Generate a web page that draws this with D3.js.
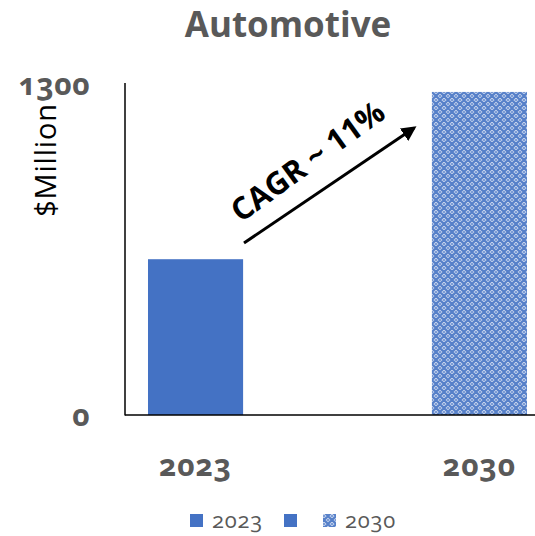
<!DOCTYPE html>
<html><head><meta charset="utf-8">
<script src="https://cdn.jsdelivr.net/npm/d3@7"></script>
<style>
body{margin:0;background:#fff;}
text{font-family:"Open Sans",sans-serif;}
</style></head>
<body><svg id="c" width="535" height="536"></svg>
<script>
const categories = ["2023", "2030"];
const values = [610, 1265];
const yTicks = [0, 1300];
const title = "Automotive";
const yLabel = "$Million";
const cagrText = "CAGR ~ 11%";
const legendItems = ["2023", "", "2030"];

const svg = d3.select("#c");
const gray = "#595959", blue = "#4472C4";

const defs = svg.append("defs");
const pat = defs.append("pattern").attr("id","hatch").attr("patternUnits","userSpaceOnUse")
  .attr("width",8).attr("height",8);
pat.append("rect").attr("width",8).attr("height",8).attr("fill","#fff");
pat.append("path").attr("d","M0,4 L4,0 L8,4 L4,8 Z").attr("fill","none").attr("stroke",blue).attr("stroke-opacity",0.9).attr("stroke-width",2.3);
[[0,0],[8,0],[0,8],[8,8],[4,4]].forEach(p=>
  pat.append("circle").attr("cx",p[0]).attr("cy",p[1]).attr("r",1.6).attr("fill",blue).attr("fill-opacity",0.7));

const x0 = 125, y0 = 415, yTop = 83;
const x = d3.scaleBand().domain(categories).range([x0, 550]).paddingInner(0.665).paddingOuter(0.081);
const y = d3.scaleLinear().domain([0, 1300]).range([y0, yTop]);

// title
svg.append("text").attr("x",288).attr("y",37).attr("text-anchor","middle")
  .attr("font-size",35).attr("font-weight","bold").attr("fill",gray).text(title);

// bars
svg.selectAll("rect.bar").data(categories).enter().append("rect").attr("class","bar")
  .attr("x",d=>x(d)).attr("width",x.bandwidth())
  .attr("y",(d,i)=>y(values[i])).attr("height",(d,i)=>y0-y(values[i]))
  .attr("fill",(d,i)=>i===0?blue:"url(#hatch)");

// axes lines
svg.append("line").attr("x1",x0).attr("x2",x0).attr("y1",yTop).attr("y2",y0+0.5).attr("stroke","#000").attr("stroke-width",1.5);
svg.append("line").attr("x1",x0).attr("x2",535).attr("y1",y0).attr("y2",y0).attr("stroke","#000").attr("stroke-width",1.5);

// y tick labels
svg.selectAll("text.yt").data(yTicks).enter().append("text").attr("class","yt")
  .attr("x",90).attr("y",d=>y(d)+ (d===0?11:12)).attr("text-anchor","end")
  .attr("font-size",30).attr("font-weight","bold").attr("fill",gray).attr("letter-spacing",0.5)
  .style("font-feature-settings","'onum'").text(d=>d);

// y label
svg.append("text").attr("transform","translate(56,160) rotate(-90)").attr("text-anchor","middle")
  .attr("font-size",29).attr("letter-spacing",0.8).attr("fill","#000").text(yLabel);

// x labels
svg.selectAll("text.xt").data(categories).enter().append("text").attr("class","xt")
  .attr("x",d=>x(d)+x.bandwidth()/2).attr("y",476).attr("text-anchor","middle")
  .attr("font-size",30).attr("font-weight","bold").attr("fill",gray).attr("letter-spacing",1)
  .style("font-feature-settings","'onum'").text(d=>d);

// arrow
defs.append("marker").attr("id","ah").attr("viewBox","0 0 10 10").attr("refX",8).attr("refY",5)
  .attr("markerWidth",5).attr("markerHeight",5).attr("orient","auto")
  .append("path").attr("d","M0,0 L10,5 L0,10 Z").attr("fill","#000");
svg.append("line").attr("x1",244).attr("y1",243).attr("x2",414).attr("y2",128)
  .attr("stroke","#000").attr("stroke-width",3).attr("marker-end","url(#ah)");
svg.append("text").attr("transform","translate(314,170) rotate(-36)").attr("text-anchor","middle")
  .attr("font-size",31).attr("font-weight","bold").attr("fill","#000").text(cagrText);

// legend
const lg = svg.append("g");
const lx = [190, 284, 323];
legendItems.forEach((t,i)=>{
  lg.append("rect").attr("x",lx[i]).attr("y",514).attr("width",13).attr("height",13)
    .attr("fill", i===2?"url(#hatch)":blue);
  if(t) lg.append("text").attr("x",lx[i]+22).attr("y",528).attr("font-size",22).attr("letter-spacing",0.8).attr("fill",gray)
    .style("font-feature-settings","'onum'").text(t);
});
</script></body></html>
